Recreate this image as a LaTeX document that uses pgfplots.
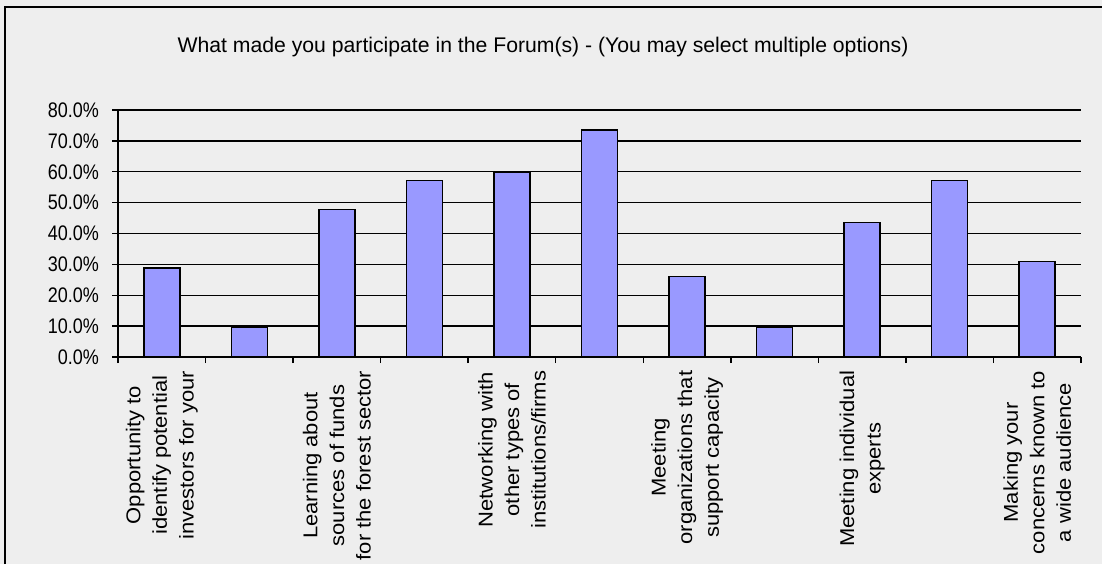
\documentclass[border=0pt]{standalone}
\usepackage{pgfplots}
\pgfplotsset{compat=1.18}
\usepackage{fontspec}
\setmainfont{Liberation Sans}
\definecolor{bg}{RGB}{238,238,238}
\definecolor{barc}{RGB}{153,153,255}
\begin{document}
\begin{tikzpicture}[x=1pt,y=1pt]
\fill[bg] (0,0) rectangle (551,282);
\useasboundingbox (0,0) rectangle (551,282);
\draw[line width=1pt] (2.5,0) -- (2.5,278.5) -- (551,278.5);
\node[font=\fontsize{10.6}{12}\selectfont] at (271.5,258.5) {What made you participate in the Forum(s) - (You may select multiple options)};
\begin{axis}[
  at={(59pt,103.5pt)}, anchor=south west, scale only axis,
  width=481.5pt, height=123.5pt,
  xmin=-0.5, xmax=10.5, ymin=0, ymax=80,
  axis x line=bottom, axis y line=left,
  axis line style={-, line width=0.8pt, black},
  ytick={0,10,...,80},
  yticklabel={\pgfmathprintnumber[fixed,fixed zerofill,precision=1]{\tick}\%},
  /pgf/number format/assume math mode=true,
  yticklabel style={font=\fontsize{9}{10}\selectfont, yscale=1.17, xshift=-3pt},
  ymajorgrids, grid style={black, line width=0.7pt},
  tick style={black, line width=0.7pt},
  tick align=outside, major tick length=3pt,
  xtick={-0.5,0.5,...,10.5},
  xticklabels={,,,,,,,,,,,,},
  extra x ticks={0,2,4,6,8,10},
  extra x tick labels={
    {Opportunity to\\identify potential\\investors for your},
    {Learning about\\sources of funds\\for the forest sector},
    {Networking with\\other types of\\institutions/firms},
    {Meeting\\organizations that\\support capacity},
    {Meeting individual\\experts},
    {Making your\\concerns known to\\a wide audience}},
  extra x tick style={major tick length=0pt, grid=none,
    xticklabel style={yshift=-3pt, rotate=90, xscale=1.1, anchor=east, align=center,
      font=\fontsize{10}{13.3}\selectfont}},
]
\addplot[ybar, bar width=18pt, fill=barc, draw=black, line width=0.75pt]
  coordinates {(0,28.8) (1,9.5) (2,47.7) (3,57.1) (4,60.0) (5,73.6)
               (6,26.0) (7,9.5) (8,43.5) (9,57.1) (10,31.0)};
\end{axis}
\end{tikzpicture}
\end{document}
